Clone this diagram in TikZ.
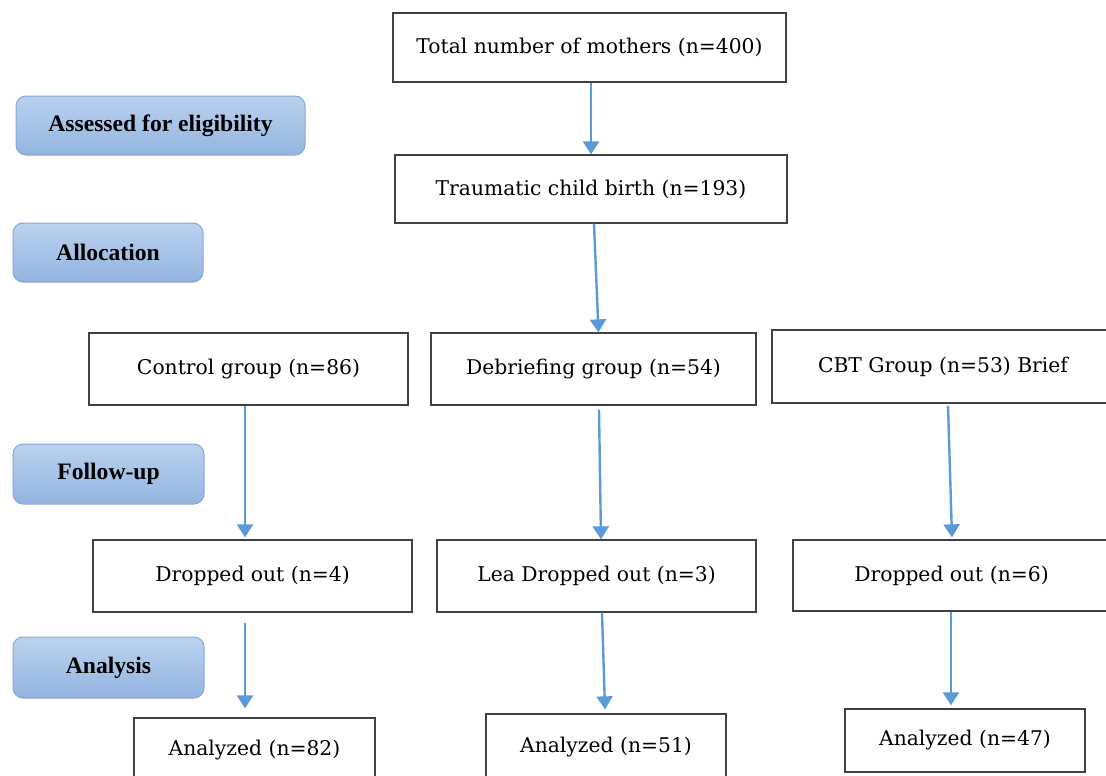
\documentclass[tikz,border=0pt]{standalone}
\usepackage{fontspec}
\setmainfont{DejaVu Serif}
\newfontfamily\phasefont{Liberation Serif}
\usepackage{tikz}
\usetikzlibrary{positioning, arrows.meta, shapes, calc}
\definecolor{arrowblue}{HTML}{5B9BD5}
\definecolor{phasetop}{HTML}{BAD2EF}
\definecolor{phasebot}{HTML}{93B4E0}
\definecolor{phaseline}{HTML}{86A7D6}
\tikzstyle{arrow} = [line width=2.4pt, draw=arrowblue, -{Triangle[width=16pt,length=13pt]}]
\tikzstyle{stage} = [rectangle, draw=black!75, line width=1.3pt, fill=white, inner sep=0pt, text centered, font=\fontsize{20.3pt}{24pt}\selectfont]
\tikzstyle{phase} = [rectangle, rounded corners=10pt, draw=phaseline, line width=1pt, top color=phasetop, bottom color=phasebot, inner sep=0pt, text centered, font=\phasefont\bfseries\fontsize{23.6pt}{27pt}\selectfont]

\begin{document}
\begin{tikzpicture}[x=1pt, y=-1pt]
        \useasboundingbox (0,0) rectangle (1106,776);
        % phases on the left
        \node (assessed) [phase, minimum width=289pt, minimum height=59pt] at (160.5,125.5) {Assessed for eligibility};
        \node (allocation) [phase, minimum width=190pt, minimum height=59pt] at (108,252.5) {Allocation};
        \node (followup) [phase, minimum width=191pt, minimum height=60pt] at (108.5,474) {Follow-up};
        \node (analysis) [phase, minimum width=191pt, minimum height=61pt] at (108.5,667.5) {Analysis};

        % flow boxes
        \node (total) [stage, minimum width=393pt, minimum height=69pt] at (589.5,47.5) {Total number of mothers (n=400)};
        \node (trauma) [stage, minimum width=392pt, minimum height=68pt] at (591,189) {Traumatic child birth (n=193)};
        \node (control) [stage, minimum width=319pt, minimum height=72pt] at (248.5,369) {Control group (n=86)};
        \node (debrief) [stage, minimum width=325pt, minimum height=72pt] at (593.5,369) {Debriefing group (n=54)};
        \node (cbt) [stage, minimum width=342pt, minimum height=73pt] at (943,366.5) {CBT Group (n=53) Brief};
        \node (drop_ctl) [stage, minimum width=319pt, minimum height=72pt] at (252.5,576) {Dropped out (n=4)};
        \node (drop_deb) [stage, minimum width=319pt, minimum height=72pt] at (596.5,576) {Lea Dropped out (n=3)};
        \node (drop_cbt) [stage, minimum width=317pt, minimum height=71pt] at (951.5,575.5) {Dropped out (n=6)};
        \node (ana_ctl) [stage, minimum width=241pt, minimum height=64pt] at (254.5,750) {Analyzed (n=82)};
        \node (ana_deb) [stage, minimum width=240pt, minimum height=66pt] at (606,747) {Analyzed (n=51)};
        \node (ana_cbt) [stage, minimum width=240pt, minimum height=63pt] at (965,740.5) {Analyzed (n=47)};

        \draw [arrow] ([xshift=1.5pt]total.south) -- (trauma.north);
        \draw [arrow] ([xshift=3pt]trauma.south) -- ([xshift=5pt]debrief.north);
        \draw [arrow] ([xshift=-3.5pt]control.south) -- ([xshift=-7.5pt,yshift=2pt]drop_ctl.north);
        \draw [arrow] ([xshift=5.5pt,yshift=-4pt]debrief.south) -- ([xshift=4.5pt]drop_deb.north);
        \draw [arrow] ([xshift=5pt,yshift=-2pt]cbt.south) -- ([xshift=0.5pt,yshift=2pt]drop_cbt.north);
        \draw [arrow] ([xshift=-7.5pt,yshift=-10pt]drop_ctl.south) -- ([xshift=-9.5pt,yshift=9pt]ana_ctl.north);
        \draw [arrow] ([xshift=5.5pt]drop_deb.south) -- ([xshift=-1pt,yshift=4pt]ana_deb.north);
        \draw [arrow] ([xshift=-0.5pt]drop_cbt.south) -- ([xshift=-14pt,yshift=3pt]ana_cbt.north);
\end{tikzpicture}
\end{document}
